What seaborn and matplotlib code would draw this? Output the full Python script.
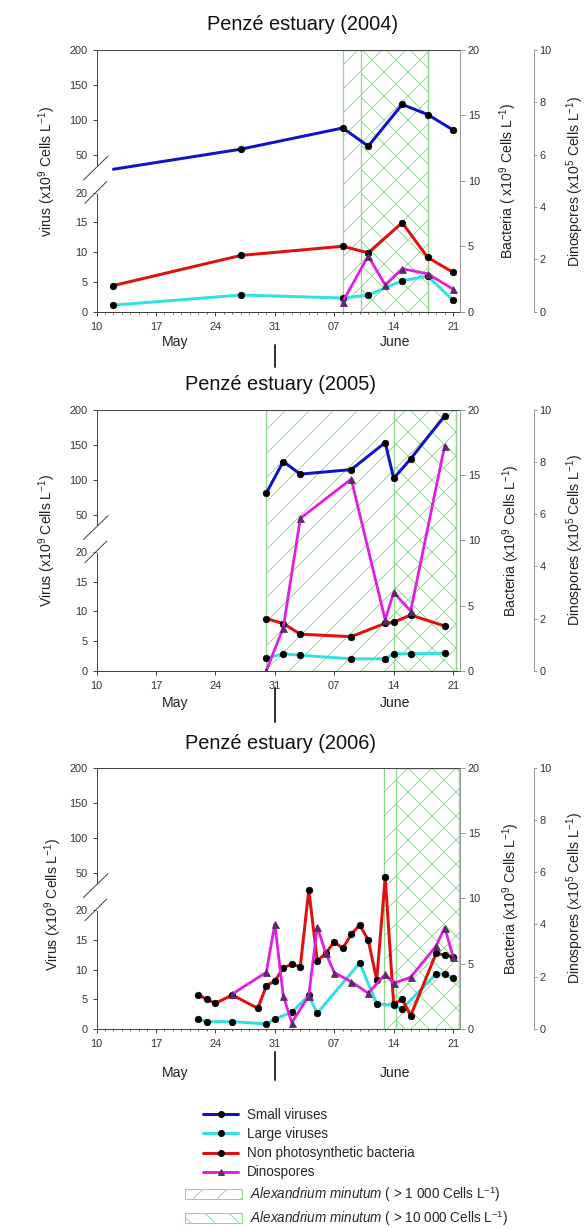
import numpy as np
import matplotlib
matplotlib.use("Agg")
import matplotlib.pyplot as plt
from matplotlib.lines import Line2D
from matplotlib.patches import Patch
from matplotlib.ticker import FixedLocator, FixedFormatter, MultipleLocator
import seaborn as sns

# day numbers: May d -> d, June d -> 31 + d
tick_days = [10, 17, 24, 31, 38, 45, 52]
tick_labels = ['10', '17', '24', '31', '07', '14', '21']

# 2004
days_2004 = [12, 27, 39, 42, 46, 49, 52]
small_2004 = [30, 58.6, 88.8, 62.9, 122.4, 108, 85.9]
large_2004 = [1.1, 2.8, 2.3, 2.8, 5.2, 6.0, 1.9]
bact_2004 = [2.0, 4.3, 5.0, 4.5, 6.8, 4.15, 3.0]
dino_days_2004 = [39, 42, 44, 46, 49, 52]
dino_2004 = [0.38, 2.13, 1.02, 1.64, 1.45, 0.86]
alex1000_2004 = (39, 49)
alex10000_2004 = (41.2, 49)

# 2005
days_2005 = [30, 32, 34, 40, 44, 45, 47, 51]
small_2005 = [81.2, 126.2, 108.2, 114.7, 153.4, 102.2, 130.1, 191.6]
large_2005 = [2.1, 2.85, 2.6, 2.0, 2.0, 2.85, 2.85, 2.95]
bact_2005 = [4.0, 3.62, 2.8, 2.61, 3.64, 3.72, 4.27, 3.43]
dino_2005 = [0, 1.65, 5.84, 7.35, 1.95, 3.0, 2.29, 8.62]
alex1000_2005 = (30, 52.3)
alex10000_2005 = (45, 52.3)

# 2006
large_days_2006 = [22, 23, 26, 30, 31, 33, 35, 36, 41, 43, 45, 46, 50, 51, 52]
large_2006 = [1.64, 1.24, 1.24, 0.85, 1.69, 2.83, 5.65, 2.66, 11.1, 4.24, 4.0, 3.39, 9.27, 9.27, 8.6]
bact_days_2006 = [22, 23, 24, 26, 29, 30, 31, 32, 33, 34, 35, 36, 37, 38, 39, 40, 41, 42,
                  43, 44, 45, 46, 47, 50, 51, 52]
bact_2006 = [2.6, 2.27, 1.97, 2.6, 1.58, 3.31, 3.67, 4.69, 4.95, 4.77, 10.63, 5.23, 5.79,
             6.68, 6.17, 7.24, 7.96, 6.81, 3.75, 11.6, 1.89, 2.27, 1.02, 5.79, 5.66, 5.53]
dino_days_2006 = [26, 30, 31, 32, 33, 35, 36, 37, 38, 40, 42, 44, 45, 47, 50, 51, 52]
dino_2006 = [1.34, 2.17, 4.02, 1.27, 0.24, 1.27, 3.92, 2.9, 2.16, 1.81, 1.37, 2.09, 1.75,
             1.98, 3.18, 3.88, 2.77]
alex1000_2006 = (43.9, 52.7)
alex10000_2006 = (45.3, 52.7)

BLUE = '#1014c4'
CYAN = '#33e0e0'
RED = '#e01010'
MAGENTA = '#e020e0'
PURPLE = '#5a2a6a'
GREEN = '#8fd68f'
SPINE = '#444444'
GREY = '#999999'

sns.set_style("ticks")
plt.rcParams['font.family'] = ['Liberation Sans', 'DejaVu Sans']
plt.rcParams['mathtext.fontset'] = 'custom'
plt.rcParams['mathtext.rm'] = 'Liberation Sans'
plt.rcParams['mathtext.it'] = 'Liberation Sans:italic'
plt.rcParams['mathtext.default'] = 'regular'
plt.rcParams['hatch.linewidth'] = 0.9

# broken virus axis: 0-20 in the lower part, 50-200 in the upper part
F20, F50 = 0.455, 0.598


def brk_fwd(v):
    v = np.asarray(v, dtype=float)
    return np.where(v <= 20, v / 20 * F20, F50 + (v - 50) / 150 * (1 - F50))


def brk_inv(t):
    t = np.asarray(t, dtype=float)
    return np.where(t <= F20, t / F20 * 20,
                    np.maximum(20, 50 + (t - F50) / (1 - F50) * 150))


W, H = 585, 1228
fig = plt.figure(figsize=(W / 72, H / 72), dpi=72)

panels = [
    dict(top=50, bottom=311.7, title='Penzé estuary (2004)', title_xy=(303, 25),
         small_days=days_2004, small=small_2004, large_days=days_2004, large=large_2004,
         bact_days=days_2004, bact=bact_2004, dino_days=dino_days_2004, dino=dino_2004,
         a1000=alex1000_2004, a10000=alex10000_2004, small_mark=[1, 2, 3, 4, 5, 6],
         vlab='virus (x10$^9$ Cells L$^{-1}$)', blab='Bacteria ( x10$^9$ Cells L$^{-1}$)',
         dlab='Dinospcres (x10$^5$ Cells L$^{-1}$)',
         vlab_xy=(-0.105, 0.534), blab_x=1.102, dlab_x=1.286,
         month_y=-0.116, sep=(-0.211, -0.127), minor=True),
    dict(top=410, bottom=670.7, title='Penzé estuary (2005)', title_xy=(280.5, 385),
         small_days=days_2005, small=small_2005, large_days=days_2005, large=large_2005,
         bact_days=days_2005, bact=bact_2005, dino_days=days_2005, dino=dino_2005,
         a1000=alex1000_2005, a10000=alex10000_2005, small_mark=None,
         vlab='Virus (x10$^9$ Cells L$^{-1}$)', blab='Bacteria (x10$^9$ Cells L$^{-1}$)',
         dlab='Dinospores (x10$^5$ Cells L$^{-1}$)',
         vlab_xy=(-0.105, 0.5), blab_x=1.11, dlab_x=1.287,
         month_y=-0.125, sep=(-0.197, -0.066), minor=False),
    dict(top=767.7, bottom=1029, title='Penzé estuary (2006)', title_xy=(280.5, 743.3),
         small_days=None, small=None, large_days=large_days_2006, large=large_2006,
         bact_days=bact_days_2006, bact=bact_2006, dino_days=dino_days_2006, dino=dino_2006,
         a1000=alex1000_2006, a10000=alex10000_2006, small_mark=None,
         vlab='Virus (x10$^9$ Cells L$^{-1}$)', blab='Bacteria (x10$^9$ Cells L$^{-1}$)',
         dlab='Dinospores (x10$^5$ Cells L$^{-1}$)',
         vlab_xy=(-0.09, 0.475), blab_x=1.11, dlab_x=1.287,
         month_y=-0.168, sep=(-0.195, -0.088), minor=True),
]

dot = dict(marker='o', markersize=6.5, markerfacecolor='black', markeredgecolor='black',
           linewidth=3, estimator=None, legend=False)

for p in panels:
    ax = fig.add_axes([96.5 / W, 1 - p['bottom'] / H, 363.5 / W, (p['bottom'] - p['top']) / H])
    axb = ax.twinx()
    axd = ax.twinx()

    # Alexandrium minutum periods
    ax.axvspan(*p['a1000'], facecolor='none', edgecolor=GREEN, hatch='/', lw=1.3, zorder=0)
    ax.axvspan(*p['a10000'], facecolor='none', edgecolor=GREEN, hatch='\\', lw=1.3, zorder=0)

    if p['small'] is not None:
        kw = dict(dot)
        if p['small_mark'] is not None:
            kw['markevery'] = p['small_mark']
        sns.lineplot(x=p['small_days'], y=p['small'], ax=ax, color=BLUE, **kw)
    sns.lineplot(x=p['large_days'], y=p['large'], ax=ax, color=CYAN, **dot)
    sns.lineplot(x=p['bact_days'], y=p['bact'], ax=axb, color=RED, **dot)
    sns.lineplot(x=p['dino_days'], y=p['dino'], ax=axd, color=MAGENTA, marker='^',
                 markersize=7, markerfacecolor=PURPLE, markeredgecolor=PURPLE,
                 linewidth=2.8, estimator=None, legend=False)

    ax.set_yscale('function', functions=(brk_fwd, brk_inv))
    ax.set_ylim(0, 200)
    ax.yaxis.set_major_locator(FixedLocator([0, 5, 10, 15, 20, 50, 100, 150, 200]))
    ax.yaxis.set_major_formatter(FixedFormatter(['0', '5', '10', '15', '20', '50', '100', '150', '200']))
    ax.yaxis.set_minor_locator(FixedLocator([]))
    axb.set_ylim(0, 20)
    axb.set_yticks([0, 5, 10, 15, 20])
    axd.set_ylim(0, 10)
    axd.set_yticks([0, 2, 4, 6, 8, 10])

    ax.set_xlim(10, 52.81)
    ax.xaxis.set_major_locator(FixedLocator(tick_days))
    ax.xaxis.set_major_formatter(FixedFormatter(tick_labels))
    if p['minor']:
        ax.xaxis.set_minor_locator(MultipleLocator(1))

    for s in ['left', 'bottom', 'top']:
        ax.spines[s].set_color(SPINE)
        ax.spines[s].set_linewidth(1)
    ax.spines['right'].set_visible(False)
    for a in (axb, axd):
        for s in ['left', 'bottom', 'top']:
            a.spines[s].set_visible(False)
        a.spines['right'].set_color(GREY)
        a.spines['right'].set_linewidth(1)
    axd.spines['right'].set_position(('outward', 74))

    ax.tick_params(axis='y', direction='out', length=4, width=1, color=SPINE,
                   labelsize=11, labelcolor='#333333', pad=5)
    ax.tick_params(axis='x', which='major', direction='out', length=4, width=1,
                   color=SPINE, labelsize=11, labelcolor='#333333', pad=6)
    ax.tick_params(axis='x', which='minor', direction='out', length=2, width=0.8, color=SPINE)
    axb.tick_params(axis='y', direction='out', length=5, width=1, color=GREY,
                    labelsize=11, labelcolor='#333333', pad=3)
    axd.tick_params(axis='y', direction='out', length=3, width=1, color=GREY,
                    labelsize=11, labelcolor='#333333', pad=2.5)

    ax.set_ylabel(p['vlab'], fontsize=14, color='#222222')
    ax.yaxis.set_label_coords(*p['vlab_xy'])
    axb.set_ylabel(p['blab'], fontsize=14, color='#222222')
    axb.yaxis.set_label_coords(p['blab_x'], 0.5)
    axd.set_ylabel(p['dlab'], fontsize=14, color='#222222')
    axd.yaxis.set_label_coords(p['dlab_x'], 0.5)

    # axis break marks
    ax.plot([0, 0], [0.458, 0.552], transform=ax.transAxes, color='white', lw=3,
            clip_on=False, zorder=3)
    ax.plot([-0.036, 0.032], [0.503, 0.595], transform=ax.transAxes, color=SPINE, lw=1,
            clip_on=False, zorder=4)
    ax.plot([-0.032, 0.028], [0.414, 0.497], transform=ax.transAxes, color=SPINE, lw=1,
            clip_on=False, zorder=4)

    # months
    tr = ax.get_xaxis_transform()
    ax.text(19.3, p['month_y'], 'May', transform=tr, ha='center', va='center',
            fontsize=14, color='#222222')
    ax.text(45.2, p['month_y'], 'June', transform=tr, ha='center', va='center',
            fontsize=14, color='#222222')
    ax.axvline(31, ymin=p['sep'][0], ymax=p['sep'][1], clip_on=False, color='#333333', lw=2)

    fig.text(p['title_xy'][0] / W, 1 - p['title_xy'][1] / H, p['title'], ha='center',
             va='center', fontsize=20, color='#111111')

line_handles = [
    Line2D([], [], color=BLUE, lw=3, marker='o', ms=6, mfc='black', mec='black'),
    Line2D([], [], color=CYAN, lw=3, marker='o', ms=6, mfc='black', mec='black'),
    Line2D([], [], color=RED, lw=3, marker='o', ms=6, mfc='black', mec='black'),
    Line2D([], [], color=MAGENTA, lw=3, marker='^', ms=6, mfc=PURPLE, mec=PURPLE),
]
line_labels = ['Small viruses', 'Large viruses', 'Non photosynthetic bacteria', 'Dinospores']
fig.legend(line_handles, line_labels, loc='upper left', bbox_to_anchor=(203 / W, 1 - 1108 / H),
           frameon=False, fontsize=13.5, handlelength=2.6, handletextpad=0.67,
           labelspacing=0.38, borderpad=0, borderaxespad=0)

patch_handles = [
    Patch(facecolor='white', edgecolor=GREEN, hatch='/'),
    Patch(facecolor='white', edgecolor=GREEN, hatch='\\'),
]
patch_labels = [r'$\mathit{Alexandrium\ minutum}$ ( > 1 000 Cells L$^{-1}$)',
                r'$\mathit{Alexandrium\ minutum}$ ( > 10 000 Cells L$^{-1}$)']
fig.legend(patch_handles, patch_labels, loc='upper left', bbox_to_anchor=(185 / W, 1 - 1184 / H),
           frameon=False, fontsize=13.5, handlelength=4.2, handleheight=0.75,
           handletextpad=0.6, labelspacing=0.35, borderpad=0, borderaxespad=0)

fig.savefig('out.png', dpi=72)
